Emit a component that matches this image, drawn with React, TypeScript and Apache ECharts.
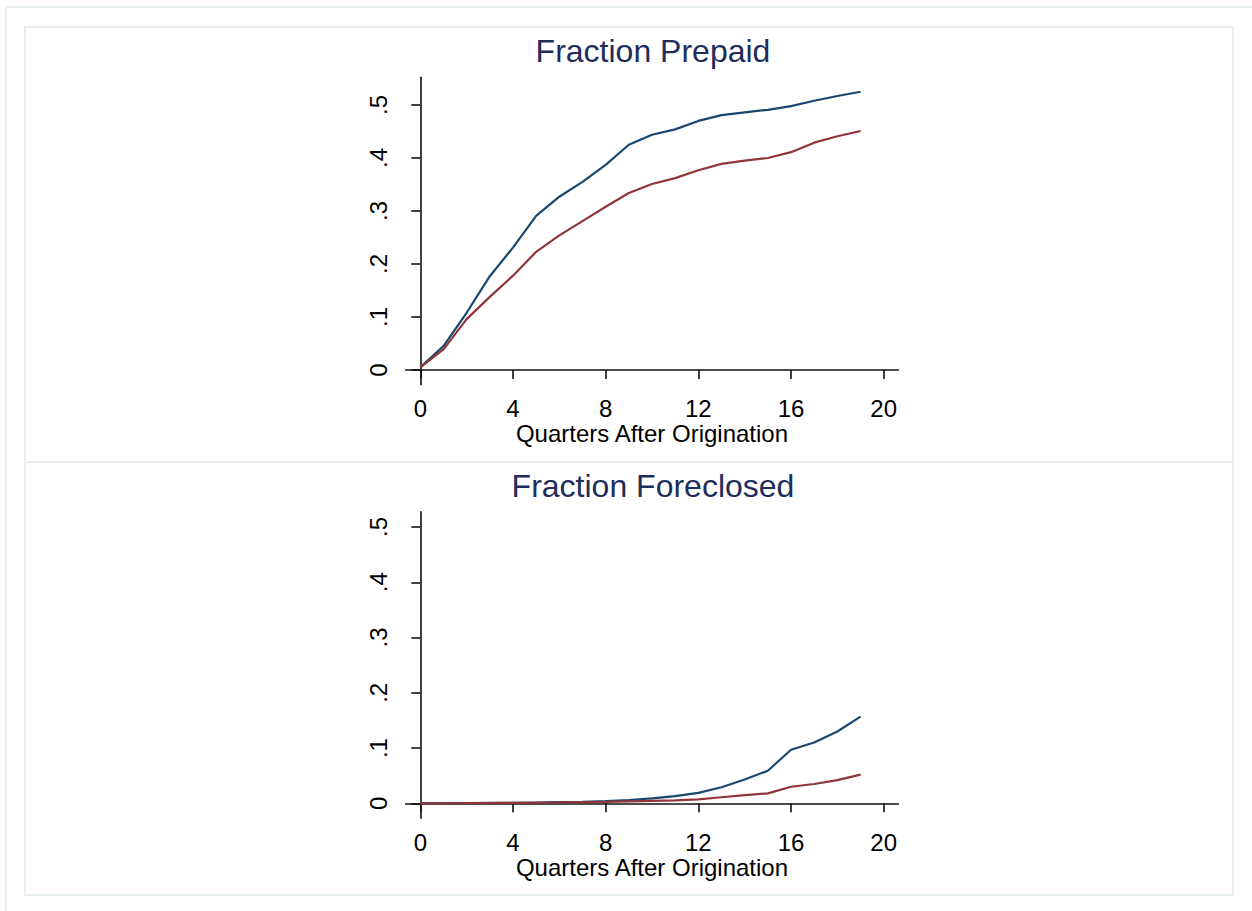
import React, { useEffect, useRef } from "react";
import * as echarts from "echarts";

// ---- Data ----
const quarters = [0, 1, 2, 3, 4, 5, 6, 7, 8, 9, 10, 11, 12, 13, 14, 15, 16, 17, 18, 19];

const prepaidBlue = [
  0.005, 0.045, 0.108, 0.177, 0.231, 0.291, 0.327, 0.355, 0.387, 0.425,
  0.444, 0.454, 0.470, 0.481, 0.486, 0.491, 0.498, 0.508, 0.517, 0.525,
];
const prepaidRed = [
  0.005, 0.039, 0.096, 0.138, 0.178, 0.223, 0.254, 0.281, 0.308, 0.334,
  0.351, 0.362, 0.377, 0.389, 0.395, 0.400, 0.411, 0.429, 0.441, 0.451,
];
const foreclosedBlue = [
  0.0, 0.0, 0.0005, 0.001, 0.001, 0.0015, 0.002, 0.0025, 0.004, 0.006,
  0.009, 0.013, 0.019, 0.029, 0.043, 0.059, 0.097, 0.110, 0.130, 0.157,
];
const foreclosedRed = [
  0.0, 0.0, 0.0003, 0.0005, 0.0008, 0.001, 0.0015, 0.002, 0.0025, 0.0035,
  0.0045, 0.0055, 0.007, 0.011, 0.015, 0.018, 0.030, 0.035, 0.042, 0.052,
];

const xTickValues = [0, 4, 8, 12, 16, 20];
const yTickValues = [0, 0.1, 0.2, 0.3, 0.4, 0.5];
const yTickLabels = ["0", ".1", ".2", ".3", ".4", ".5"];

const panelTitles = ["Fraction Prepaid", "Fraction Foreclosed"];
const xAxisTitle = "Quarters After Origination";

const BLUE = "#1a476f";
const RED = "#90353b";
const TITLE = "#1e2d5c";
const FRAME = "#e7eff0";
const AXIS = "#111";
const FONT = "'Liberation Sans', Arial, sans-serif";

function pairs(ys: number[]) {
  return quarters.map((q, i) => [q, ys[i]]);
}

function yLabel(v: number) {
  const i = yTickValues.findIndex((t) => Math.abs(t - v) < 1e-9);
  return i >= 0 ? yTickLabels[i] : "";
}

export default function App() {
  const ref = useRef<HTMLDivElement>(null);

  useEffect(() => {
    if (!ref.current) return;
    const chart = echarts.init(ref.current, null, { renderer: "svg" });

    const axisLine = { show: true, lineStyle: { color: AXIS, width: 1.6 } };
    const axisTick = (vals: number[]) => ({
      show: true,
      inside: false,
      length: 9,
      customValues: vals,
      lineStyle: { color: AXIS, width: 1.6 },
    });

    const grids = [
      { left: 405.7, top: 77.3, width: 492.6, height: 307.4, yMin: -0.0277, yMax: 0.5523 },
      { left: 405.7, top: 511.7, width: 492.6, height: 306.6, yMin: -0.0271, yMax: 0.5277 },
    ];

    const option: any = {
      animation: false,
      backgroundColor: "#fff",
      textStyle: { fontFamily: FONT },
      grid: grids.map((g) => ({
        left: g.left,
        top: g.top,
        width: g.width,
        height: g.height,
        containLabel: false,
        outerBoundsMode: "none",
      })),
      xAxis: grids.map((g, i) => ({
        type: "value",
        gridIndex: i,
        min: -0.63,
        max: 20.63,
        axisLine,
        axisTick: axisTick(xTickValues),
        splitLine: { show: false },
        axisLabel: {
          customValues: xTickValues,
          color: "#000",
          fontSize: 24,
          fontFamily: FONT,
          margin: 12,
        },
        name: xAxisTitle,
        nameLocation: "middle",
        nameGap: 37,
        nameTextStyle: { color: "#000", fontSize: 24, fontFamily: FONT },
      })),
      yAxis: grids.map((g, i) => ({
        type: "value",
        gridIndex: i,
        min: g.yMin,
        max: g.yMax,
        axisLine,
        axisTick: axisTick(yTickValues),
        splitLine: { show: false },
        axisLabel: {
          customValues: yTickValues,
          formatter: (v: number) => yLabel(v),
          rotate: 90,
          color: "#000",
          fontSize: 24,
          fontFamily: FONT,
          margin: 15,
        },
      })),
      series: [
        { data: pairs(prepaidBlue), color: BLUE, idx: 0 },
        { data: pairs(prepaidRed), color: RED, idx: 0 },
        { data: pairs(foreclosedBlue), color: BLUE, idx: 1 },
        { data: pairs(foreclosedRed), color: RED, idx: 1 },
      ].map((s) => ({
        type: "line",
        xAxisIndex: s.idx,
        yAxisIndex: s.idx,
        data: s.data,
        showSymbol: false,
        symbol: "none",
        silent: true,
        lineStyle: { color: s.color, width: 2.2 },
        itemStyle: { color: s.color },
      })),
      graphic: [
        {
          type: "rect",
          silent: true,
          shape: { x: 6, y: 7, width: 1300, height: 1000 },
          style: { fill: "none", stroke: FRAME, lineWidth: 2 },
        },
        {
          type: "rect",
          silent: true,
          shape: { x: 25, y: 27, width: 1208, height: 868 },
          style: { fill: "none", stroke: FRAME, lineWidth: 2 },
        },
        {
          type: "line",
          silent: true,
          shape: { x1: 25, y1: 462, x2: 1233, y2: 462 },
          style: { stroke: FRAME, lineWidth: 2 },
        },
        {
          type: "text",
          silent: true,
          x: 653,
          y: 51,
          style: {
            text: panelTitles[0],
            fill: TITLE,
            fontSize: 32,
            fontFamily: FONT,
            textAlign: "center",
            textVerticalAlign: "middle",
          },
        },
        {
          type: "text",
          silent: true,
          x: 653,
          y: 486,
          style: {
            text: panelTitles[1],
            fill: TITLE,
            fontSize: 32,
            fontFamily: FONT,
            textAlign: "center",
            textVerticalAlign: "middle",
          },
        },
      ],
    };

    chart.setOption(option);
    return () => chart.dispose();
  }, []);

  return (
    <div
      ref={ref}
      style={{ position: "fixed", left: 0, top: 0, width: 1252, height: 911 }}
    />
  );
}
